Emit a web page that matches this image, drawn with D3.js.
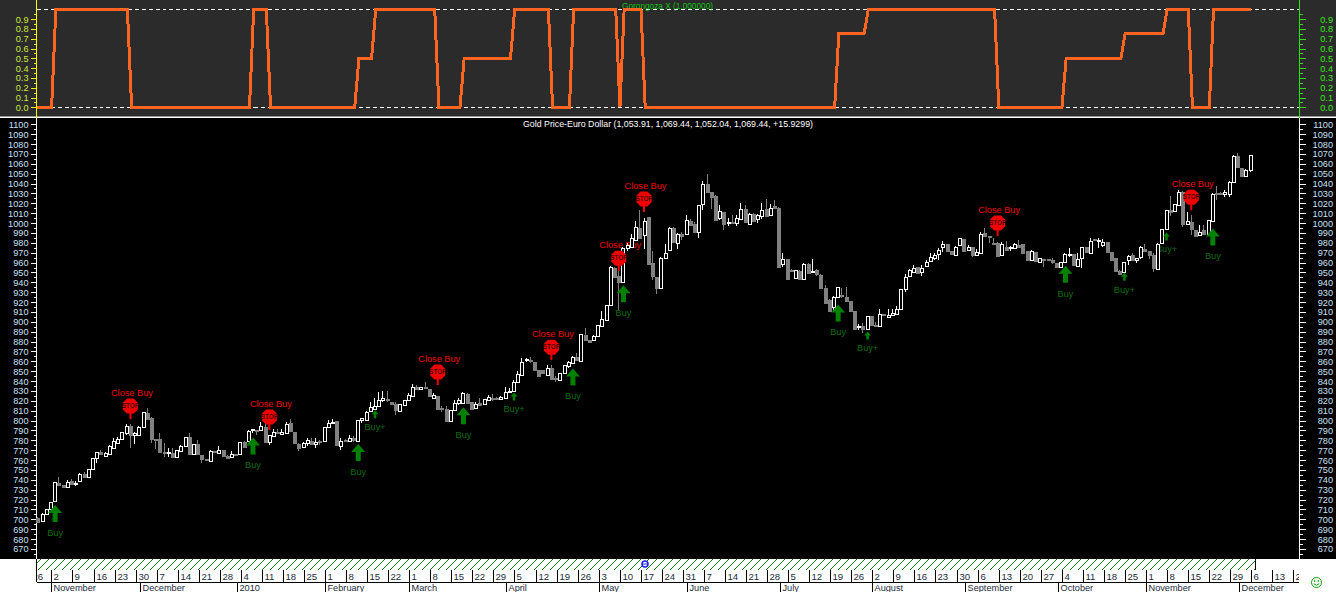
<!DOCTYPE html>
<html><head><meta charset="utf-8">
<script src="https://cdn.jsdelivr.net/npm/d3@7"></script>
<style>
html,body{margin:0;padding:0;background:#fff;overflow:hidden}
svg{display:block;font-family:"Liberation Sans",Arial,sans-serif}
</style></head><body>
<svg id="c" width="1336" height="592"></svg>
<script>
const opens=[
701.3,697.6,705,710.4,717.8,736.4,734.7,733,738.8,736.4,
738,745.5,742.5,750.6,761.7,767.8,763.4,766.8,772.5,777.9,
781.3,787,794.4,785.3,785.3,793.1,807.3,802.5,781.6,781,
768,767,767,762.4,769.8,773.5,783.3,765.8,776.2,765,
761.4,759,769.1,767,769.8,764,762.7,766.1,765.8,778.2,
779.3,789.7,790.4,790.4,793.8,778.6,785,788.7,786.3,787.7,
797.1,788.4,776.2,772.5,776.9,779.3,776.2,779.6,779.3,793.1,
797.9,799.5,774.6,780.3,778.6,782,779.6,800.5,800.5,808.9,
811.6,814.7,820.7,821.4,818.7,816.7,810,816,820,824.5,
834.2,831.5,833.9,831.5,823,824.8,812.3,811.6,799.9,810.6,
817.4,817.4,826.8,819,812.3,817.4,816,821.4,823.1,823.1,
822,822.8,828.5,830.2,838.6,846.7,860.6,861.2,858.9,850.8,
850.8,846,853.1,843.4,840.3,847.7,854.5,858.9,863.9,860.6,
886.5,881.5,881.4,885.5,896,902,916.9,955,946.2,940.5,
974.9,975.2,982.7,994.5,987.7,1005.9,960,945.5,934.7,964.8,
973.2,995.5,980.3,988.7,988.4,1001.9,998.8,991.1,1018.8,1040,
1031.6,1027.9,1005.3,1011.7,999.5,1001.2,1000.5,1004.6,1014,999.5,
1009.6,1003.9,1007.3,1014,1008.6,1017,1015.4,959,963.4,952,
944.5,951.3,943.5,958.4,950.6,952.3,947.9,934.4,922.6,915.2,
924.7,927.4,925.4,921,910.8,894.3,895.7,892.3,905.8,896.7,
896.3,907.5,905.1,906.1,908.1,912.2,932.8,945.6,950.7,955.4,
951,956.7,961.8,964.9,968.2,975,978.3,971.6,967.9,977,
983.7,971.9,975.3,968.2,969.9,989.5,986.8,980.3,980.3,967.6,
976,974,975,977.6,978.7,972,963.2,970.3,961.1,963.2,
963.9,962.5,959.1,955.7,960.5,967.6,968.2,956.4,963.8,975.9,
970.2,983.4,982,977.6,980.7,970.5,964.5,951.6,950.6,962.4,
967.5,963.1,965.1,973.9,972.2,967.5,954,979.3,993.8,1013,
1011.4,1018.1,1031.6,998.5,1000.6,992.8,988.4,992.8,988.4,1002.9,
1030.9,1030.6,1029.2,1029.2,1041.7,1067.7,1055.6,1048.1,1053.9];
const closes=[
697.6,705,710.4,717.2,737.4,734.7,733,737.8,736.1,737,
745.5,742.8,750.6,761.7,767.8,765.4,766.8,774.5,779.6,781.6,
788,794.4,785.3,787,793.8,808.3,801.5,781.6,781,767.4,
767,767.8,763,769.8,774.5,783,766.4,775.9,766.4,761.4,
760,768.8,767.8,770.5,764,762.4,766.1,765.4,777.9,773.5,
789.7,791,789.7,794.1,778.6,785.3,788.7,787.7,788.7,796.5,
788.7,777.6,772.2,776.9,780.3,775.9,778.2,778.6,793.4,797.1,
799,775.2,779.6,779.2,782,779.6,800.5,802.2,808.9,813.3,
814.7,820.7,822.4,820,816.7,810.6,816.7,820.7,825.5,833.6,
832.2,833.6,832.6,824.1,825.8,811.6,811.3,799.9,810.6,817.4,
820.7,827.8,817.4,812.3,816.7,815,821.4,824.1,822,822.4,
824.1,828.5,829.9,839.3,846.7,859.5,861.9,860.2,850.4,844.4,
847.7,852.8,842,842,847.7,856.2,858.9,864.6,861.2,887.6,
881.4,879.5,885.8,896.3,902.7,916.9,955.7,946.2,940.5,974.9,
977.6,984.4,996.1,984.4,1002.2,958.4,947.2,934.7,965.1,970.2,
995.5,981,989.4,987,1002.6,997.8,991.1,1018.1,1039.3,1031.6,
1026.5,1003.9,1012.3,999.5,1000.9,1000.2,1005.6,1014.7,1000.5,1009.6,
1002.9,1008,1013.7,1007.3,1015.7,1015.4,955.7,964.1,943.5,951,
952.3,943.2,959,949.6,951.3,948.2,934.4,919.6,911.8,925.4,
934.8,926.7,921.3,910.8,892.9,895.7,892.3,905.8,896.7,895.7,
908.1,906.1,907.1,908.5,913.5,932.8,944.9,952,954.4,949.6,
955,960.5,965.9,967.6,972.6,978.3,970.9,968.2,976,984.4,
971.9,975.3,967.6,970.9,988.8,986,985.4,979.3,967.6,978.3,
972.6,975.3,978.7,976,970,963.2,972,960.8,964.9,961.8,
962.5,960.5,954.7,960.5,968.6,968.6,957.4,963.5,975.3,970.9,
982,982,982.7,981,970.9,962.4,951.6,948.9,960.4,966.8,
962.4,965.1,975.3,972.2,968.2,954,979.3,993.5,1013,1010.7,
1018.8,1031.6,999.6,1001.6,993.5,987,991.1,988.4,1002.9,1029.9,
1029.9,1029.9,1031.3,1041.7,1067.7,1056.2,1047.8,1054.2,1069.4];
const highs=[
702,706,711,718,738,742.5,735,739.8,740.5,738.8,
747.2,748.2,751,762,768,770.1,767.8,775,782,783.6,
788.5,796.1,796.1,788.7,794.5,809,812.7,803.9,781.6,787,
776.9,771.8,771.8,770,775,783.5,787,776.5,780.3,765,
761.4,770,769.5,774.2,770.1,765,769.5,766.1,778.5,779,
790.4,792,790.4,798.8,802.2,785.3,791,791,791,798.5,
801.2,788.4,776.9,778.6,782,782,782,780.3,794,801,
802,800,782,781,785.3,784.3,801,802.9,809.5,818.4,
822.4,829.2,830.2,830.2,819,819,817,821,827.5,837,
836,834,839,832,827.5,825,814.7,814.7,811,820.7,
822.4,829.2,828,819,819,822.4,822,825.8,826.5,823.5,
824.5,833.6,832.6,841,850.4,863.6,863.6,864.6,859,851,
851,856.2,856.2,845,848,856.5,860.6,865,868,888,
893.9,882,887,897,910.8,917.5,957,956,952.3,975.5,
980,989.4,1001.9,1013,1005.3,1006,971.5,945.5,965.5,979.3,
996,996,989.5,991,1008.6,1004.6,1001.2,1018.5,1042.7,1049.5,
1031.6,1028,1018.7,1011.7,1005.3,1008.6,1008.6,1020.8,1018.7,1010,
1010.6,1009.6,1020.8,1024.2,1019.8,1023.8,1016,969.2,964,953,
952.5,952,959.5,960,964,954,948,937,923,926,
935,933.8,934.8,921,911,897.7,898.4,906,906,900,
913.5,908,912.5,912.5,915.9,933.5,948.3,954,957.4,955.5,
957.4,962.5,969.9,969.9,974.3,981.7,979,972,976.5,985,
984,977.6,975.3,973.3,990.5,994.5,986.8,984.4,981,981,
982,976.6,980,982.7,979,972,972.5,970.5,965,963.2,
964,964.2,960,961,969.2,975,968.5,969.2,976,976,
984.4,984,984.4,983.7,981,971,964.5,952,961,967.5,
969.9,965.1,976.6,978.6,972.2,969.9,980.3,994,1013.7,1027.2,
1019,1033.3,1032,1011.4,1008,993,997.9,998.5,1003.5,1030.5,
1037.3,1031,1033.3,1042.7,1068.5,1071,1056,1055.2,1069.4];
const lows=[
697,697,705,710,717.8,733.7,733,733,734.7,734,
738,742.8,742.5,750.6,757.3,765.4,763.4,766.8,772.5,777.9,
781,785.3,771.8,776.2,785,793,801.5,776.9,771.2,767.4,
763.4,763.4,763,762,769.8,773.5,766.4,765.5,765,757.3,
760,759,767.4,767,763.4,761.7,762.7,765.4,765.8,773,
779,787.7,785.3,790.4,778.6,775.2,785,787,786.3,787.7,
788.7,777.6,769.5,772.5,774.5,775.2,772.5,775.2,779.3,793,
797,775,770.1,778.5,778.6,778.6,779.6,797.1,800.5,808.9,
811.6,814,819,819,816.5,805.6,810,816,820,824.5,
832.2,831,831.5,824,821.7,811.6,809,799.9,799.9,810.6,
815.7,817.4,817.4,812.3,812.3,815,816,820,820,822,
822,822.8,827.5,830.2,838.6,846.7,858.9,857.9,850.4,844.4,
847.5,846,842,838.6,840.3,847.7,852.8,858.9,861.2,860.6,
881.4,879,881,885,896,902,916.9,946.2,911.8,940.5,
972,975,982.7,984.4,973.5,958.4,942.2,928,934.7,964,
973.2,981,974.2,982.7,988.4,997.8,991.1,985,1013,1031.6,
1014.7,1002.9,1003.6,992.8,996.8,999.5,996.8,1002.9,1000.5,999.5,
1002.9,1000.2,1003.9,1007.3,1008.6,1015.4,955.7,955.7,943.5,950,
944,943.2,943.5,949.6,950.6,946.5,934.4,918.5,911.8,912,
924.7,923.7,921.3,910.8,892.9,891.6,888.2,892.3,896.7,894.3,
896.3,906,905,906,908,912,930.4,945,950.7,949.6,
946.3,956.7,960.8,962.5,962.5,971,970.9,968.2,967.9,977,
971.9,971.9,965.2,968.2,969.9,986,980,977.6,967.6,967.6,
972.6,972,973.3,976,970,963.2,963,960.8,961,955.7,
962.5,958.4,954.7,955.7,960.5,965.8,957.4,956.4,954.3,970.9,
970.2,982,974.9,976,970.9,962.4,950,948.9,950.6,957.4,
962.4,959.7,964.1,972.2,963.8,950.6,954,979.3,993.8,1007.3,
1011.4,1018.1,996.2,998.5,987.7,987,987.7,988.4,988.4,1002.9,
1023.8,1029.5,1025.9,1025.9,1041.7,1056.2,1047.8,1046.8,1052];

const oscBars=[-0.5,3,4,21,22,50,51,54,55,75,76,79,80,94,95,100,101,112,113,121,122,126,127,137,138,139,143,144,189,190,196,197,227,228,243,244,257,258,267,268,273,274,278,279,288];
const oscVals=[0,0,1,1,0,0,1,1,0,0,0.5,0.5,1,1,0,0,0.5,0.5,1,1,0,0,1,1,0,1,1,0,0,0.75,0.75,1,1,0,0,0.5,0.5,0.75,0.75,1,1,0,0,1,1];

const buyBars=[4,51,76,101,127,139,190,244,279];
const buyTips=[714.5,783,776.2,813.4,852.8,937.1,917.6,956.7,994.5];
const buyPlusBars=[80,113,197,258,268];
const buyPlusTips=[810.6,828.5,890.3,949.6,990.5];
const stopBars=[22,55,95,122,138,144,228,274];
const stopTips=[801.5,790.4,836,861.2,951.3,1011.3,987,1013];

const dayLabels=[26,2,9,16,23,30,7,14,21,28,4,11,18,25,1,8,15,22,1,8,15,22,29,5,12,19,26,3,10,17,24,31,7,14,21,28,5,12,19,26,2,9,16,23,30,6,13,20,27,4,11,18,25,1,8,15,22,29,6,13,20];
const monthLabels=["November","December","2010","February","March","April","May","June","July","August","September","October","November","December"];
const monthBars=[3,24,47,68,88,111,133,154,176,198,220,242,263,285];
const priceLabels=d3.range(670,1101,10);
const priceMinor=d3.range(665,1100,10);
const oscLabels=d3.range(0,0.95,0.1);
const oscMinor=d3.range(0.05,1,0.1);

const svg=d3.select("#c");
const x=d3.scaleLinear().domain([0,288]).range([38.3,1250.7]);
const y=d3.scaleLinear().domain([670,1100]).range([549,124.3]);
const yo=d3.scaleLinear().domain([0,1]).range([107.3,9.3]);
const L=36.5,R=1299.5;
const rx=i=>Math.round(x(i));

// backgrounds
svg.append("rect").attr("width",1336).attr("height",592).attr("fill","#fff");
svg.append("rect").attr("width",1336).attr("height",117).attr("fill","#2b2b2b");
svg.append("rect").attr("y",117).attr("width",1336).attr("height",442).attr("fill","#000");
svg.append("rect").attr("y",116.5).attr("width",1336).attr("height",1.5).attr("fill","#fff");

// top panel
[0,1].forEach(v=>svg.append("line").attr("x1",L).attr("x2",R).attr("y1",Math.round(yo(v))+.5).attr("y2",Math.round(yo(v))+.5)
  .attr("stroke","#fff").attr("stroke-dasharray","4 3").attr("shape-rendering","crispEdges"));
svg.append("text").attr("x",622).attr("y",9).attr("fill","#10c010").attr("font-size",9.2)
  .attr("textLength",91).attr("lengthAdjust","spacingAndGlyphs").text("Gorongoza X (1.000000)");
svg.append("path").datum(oscBars.map((b,k)=>[b,oscVals[k]]))
  .attr("d",d3.line().x(d=>x(d[0])+.7).y(d=>yo(d[1])))
  .attr("fill","none").attr("stroke","#ff6420").attr("stroke-width",3).attr("shape-rendering","crispEdges");

function axis(gen,scale,vals,size,tx,fmt,color,textColor,isLeft){
  const g=svg.append("g").attr("transform",`translate(${tx},0)`)
    .call(gen(scale).tickValues(vals).tickSize(size).tickSizeOuter(0).tickPadding(2).tickFormat(fmt));
  g.select(".domain").remove();
  g.selectAll("line").attr("stroke",color).attr("shape-rendering","crispEdges");
  g.selectAll("text").attr("fill",textColor).attr("font-size",9.2).attr("font-family","'Liberation Sans',Arial,sans-serif");
  if(!isLeft) g.selectAll("text").attr("text-anchor","end").attr("x",33.5);
  else g.selectAll("text").attr("x",-8);
  return g;
}
const noTxt=()=>"";
axis(d3.axisLeft,yo,oscLabels,6,L,d3.format(".1f"),"#ffff00","#cfe83c",true);
axis(d3.axisLeft,yo,oscMinor,3,L,noTxt,"#ffff00","#cfe83c",true);
axis(d3.axisRight,yo,oscLabels,6,R,d3.format(".1f"),"#30e010","#38e818",false);
axis(d3.axisRight,yo,oscMinor,3,R,noTxt,"#30e010","#38e818",false);
axis(d3.axisLeft,y,priceLabels,6,L,d3.format("d"),"#fff","#c8e0f8",true);
axis(d3.axisLeft,y,priceMinor,3,L,noTxt,"#fff","#fff",true);
axis(d3.axisRight,y,priceLabels,6,R,d3.format("d"),"#fff","#c8e0f8",false);
axis(d3.axisRight,y,priceMinor,3,R,noTxt,"#fff","#fff",false);
[[L,"#ffff00"],[R,"#30e010"]].forEach(a=>svg.append("line").attr("x1",a[0]).attr("x2",a[0]).attr("y1",0).attr("y2",118).attr("stroke",a[1]).attr("shape-rendering","crispEdges"));
[L,R].forEach(a=>svg.append("line").attr("x1",a).attr("x2",a).attr("y1",118).attr("y2",559).attr("stroke","#fff").attr("shape-rendering","crispEdges"));

svg.append("text").attr("x",523).attr("y",127).attr("fill","#fff").attr("font-size",9.2)
  .attr("textLength",290).attr("lengthAdjust","spacingAndGlyphs")
  .text("Gold Price-Euro Dollar (1,053.91, 1,069.44, 1,052.04, 1,069.44, +15.9299)");

// labels lie beneath the candles
const G="#0a6e0a";
function lbl(xp,yp,t,c){svg.append("text").attr("x",xp).attr("y",yp).attr("text-anchor","middle").attr("dominant-baseline","central").attr("fill",c).attr("font-size",9.2).text(t);}
buyBars.forEach((b,k)=>lbl(x(b),y(buyTips[k])+27.7,"Buy",G));
buyPlusBars.forEach((b,k)=>lbl(x(b),y(buyPlusTips[k])+16.8,"Buy+",G));
stopBars.forEach((b,k)=>lbl(x(b)+1,y(stopTips[k])-26.3,"Close Buy","#f00000"));

// candles
const idx=d3.range(opens.length);
const up=i=>closes[i]>=opens[i];
const cg=svg.append("g").attr("shape-rendering","crispEdges");
cg.selectAll(".w").data(idx).join("line").attr("class","w")
  .attr("x1",i=>rx(i)-.5).attr("x2",i=>rx(i)-.5).attr("y1",i=>y(highs[i])).attr("y2",i=>y(lows[i]))
  .attr("stroke",i=>up(i)?"#fff":"#808080");
cg.selectAll(".b").data(idx).join("rect").attr("class","b")
  .attr("x",i=>rx(i)-1.5).attr("width",3)
  .attr("y",i=>Math.round(y(Math.max(opens[i],closes[i])))+.5)
  .attr("height",i=>Math.max(1,Math.round(Math.abs(y(opens[i])-y(closes[i])))))
  .attr("fill",i=>up(i)?"#000":"#808080")
  .attr("stroke",i=>up(i)?"#fff":"#808080");

// arrows and stop signs
function arrow(b,tip,hw,hh,sw,tot){
  const cx=x(b),t=y(tip);
  svg.append("path").attr("fill","#008000")
    .attr("d",`M${cx},${t}L${cx+hw},${t+hh}L${cx+sw},${t+hh}L${cx+sw},${t+tot}L${cx-sw},${t+tot}L${cx-sw},${t+hh}L${cx-hw},${t+hh}Z`);
}
buyBars.forEach((b,k)=>arrow(b,buyTips[k],7,8,2.5,17));
buyPlusBars.forEach((b,k)=>arrow(b,buyPlusTips[k],3.5,4,1.3,8));
stopBars.forEach((b,k)=>{
  const cx=x(b)-.5,tip=y(stopTips[k]),cy=tip-13,r=7.5,o=r*.45;
  svg.append("rect").attr("x",cx-1).attr("y",cy).attr("width",2).attr("height",13).attr("fill","#f00000");
  svg.append("polygon").attr("fill","#f00000")
    .attr("points",[[-o,-r],[o,-r],[r,-o],[r,o],[o,r],[-o,r],[-r,o],[-r,-o]].map(p=>[cx+p[0],cy+p[1]].join(",")).join(" "));
  svg.append("text").attr("x",cx).attr("y",cy+2.2).attr("text-anchor","middle").attr("font-size",6.3).attr("font-weight","bold").attr("fill","#500000").text("STOP");
});

// date band
const defs=svg.append("defs");
const pat=defs.append("pattern").attr("id","hatch").attr("patternUnits","userSpaceOnUse").attr("width",8).attr("height",8);
pat.append("path").attr("d","M-1,1L1,-1M0,8L8,0M7,9L9,7").attr("stroke","#008000").attr("stroke-width",1);
svg.append("rect").attr("x",37).attr("y",559).attr("width",1218).attr("height",11).attr("fill","url(#hatch)");
const blk="#000";
const bg=svg.append("g").attr("shape-rendering","crispEdges");
bg.append("line").attr("x1",37).attr("x2",1299).attr("y1",582.5).attr("y2",582.5).attr("stroke",blk);
bg.append("line").attr("x1",36.5).attr("x2",36.5).attr("y1",559).attr("y2",582).attr("stroke",blk);
bg.append("line").attr("x1",1255.5).attr("x2",1255.5).attr("y1",559).attr("y2",570).attr("stroke",blk);
const dayG=svg.append("g");
defs.append("clipPath").attr("id","clipDays").append("rect").attr("x",37).attr("y",570).attr("width",1262).attr("height",12);
dayLabels.forEach((d,k)=>{
  const b=-2+5*k, px=Math.round(x(b)+.5)+.5;
  if(px>1299) return;
  if(px>37) dayG.append("line").attr("x1",px).attr("x2",px).attr("y1",570).attr("y2",582).attr("stroke",blk).attr("shape-rendering","crispEdges");
  dayG.append("text").attr("x",px+2).attr("y",579.5).attr("font-size",9.6).attr("fill","#1c2a3c")
    .attr("clip-path","url(#clipDays)").text(d);
});
monthLabels.forEach((m,k)=>{
  const px=Math.round(x(monthBars[k])+.5)+.5;
  dayG.append("line").attr("x1",px).attr("x2",px).attr("y1",582).attr("y2",592).attr("stroke",blk).attr("shape-rendering","crispEdges");
  dayG.append("text").attr("x",px+2).attr("y",590.5).attr("font-size",9.2).attr("fill","#1c2a3c").text(m);
});

// page marker and smiley
svg.append("circle").attr("cx",645).attr("cy",564).attr("r",3).attr("fill","#fff").attr("stroke","#2020e0").attr("stroke-width",1.6);
svg.append("line").attr("x1",642.5).attr("x2",647.5).attr("y1",564).attr("y2",564).attr("stroke","#2020e0");
const sm=svg.append("g").attr("transform","translate(1316.5,582.5)").attr("fill","none").attr("stroke","#10a010");
sm.append("circle").attr("r",5);
sm.append("path").attr("d","M-2.8,1.2Q0,4.2 2.8,1.2");
sm.append("circle").attr("cx",-1.8).attr("cy",-1.5).attr("r",.5);
sm.append("circle").attr("cx",1.8).attr("cy",-1.5).attr("r",.5);
</script>
</body></html>
